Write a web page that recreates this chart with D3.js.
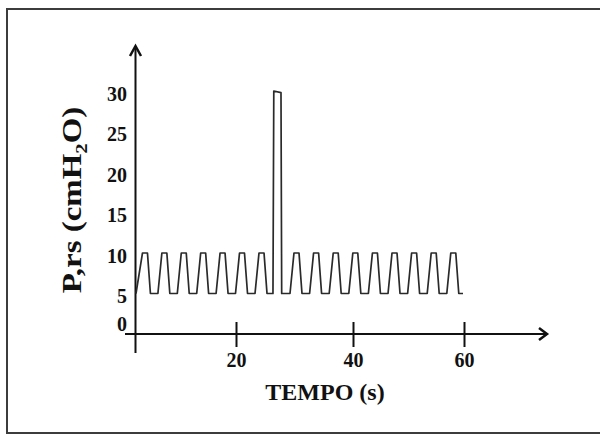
<!DOCTYPE html>
<html>
<head>
<meta charset="utf-8">
<script src="https://cdn.jsdelivr.net/npm/d3@7"></script>
<style>
  html, body { margin: 0; padding: 0; background: #fff; }
  svg { display: block; }
  text { font-family: "Liberation Serif", "Times New Roman", serif; font-weight: bold; fill: #111; }
</style>
</head>
<body>
<svg id="chart" width="600" height="435"></svg>
<script>
// ---- data ----
const timeS = [
  0.1, 1.39, 2.38, 2.97, 4.46,
  5.25, 6.24, 6.83, 8.32,
  9.11, 10.10, 10.69, 12.18,
  12.97, 13.96, 14.55, 16.04,
  16.83, 17.82, 18.42, 19.90,
  20.60, 21.45, 21.97, 23.25,
  23.93, 24.79, 25.30, 26.32,
  26.46, 27.69, 27.81, 29.23,
  29.91, 30.77, 31.28, 32.58,
  33.26, 34.12, 34.63, 35.93,
  36.62, 37.47, 37.98, 39.28,
  39.97, 40.86, 41.41, 42.77,
  43.50, 44.40, 44.94, 46.31,
  47.03, 47.93, 48.47, 49.84,
  50.56, 51.46, 52.00, 53.37,
  54.09, 54.99, 55.53, 56.90,
  57.62, 58.52, 59.06, 59.82
];
const pressure = [
  5, 10, 10, 5, 5,
  10, 10, 5, 5,
  10, 10, 5, 5,
  10, 10, 5, 5,
  10, 10, 5, 5,
  10, 10, 5, 5,
  10, 10, 5, 5,
  30, 29.8, 5, 5,
  10, 10, 5, 5,
  10, 10, 5, 5,
  10, 10, 5, 5,
  10, 10, 5, 5,
  10, 10, 5, 5,
  10, 10, 5, 5,
  10, 10, 5, 5,
  10, 10, 5, 5,
  10, 10, 5, 5
];
const xTicks = [20, 40, 60];
const yTicks = [0, 5, 10, 15, 20, 25, 30];
const xLabel = "TEMPO (s)";
const yLabelMain = "P,rs (cmH";
const yLabelSub = "2";
const yLabelEnd = "O)";

// ---- drawing ----
const svg = d3.select("#chart");

// outer frame
svg.append("rect")
  .attr("x", 7).attr("y", 9)
  .attr("width", 600).attr("height", 424)
  .attr("fill", "none").attr("stroke", "#3c3c3c").attr("stroke-width", 2);

// hand-drawn axis has unequal tick spacing -> piecewise linear scale
const x = d3.scaleLinear().domain([0, 20, 40, 60]).range([135.5, 236, 353, 464]);
const y = d3.scaleLinear().domain([0, 30]).range([334, 91]);

const axisColor = "#111";

// x axis line with arrow
svg.append("line")
  .attr("x1", 125).attr("x2", 546)
  .attr("y1", y(0)).attr("y2", y(0))
  .attr("stroke", axisColor).attr("stroke-width", 2);
svg.append("path")
  .attr("d", `M${539},${y(0) - 6}L${547},${y(0)}L${539},${y(0) + 6}`)
  .attr("fill", "none").attr("stroke", axisColor).attr("stroke-width", 2.5)
  .attr("stroke-linejoin", "miter");

// y axis line with arrow
svg.append("line")
  .attr("x1", x(0)).attr("x2", x(0))
  .attr("y1", 353).attr("y2", 47)
  .attr("stroke", axisColor).attr("stroke-width", 2);
svg.append("path")
  .attr("d", `M${x(0) - 5.5},${56}L${x(0)},${46}L${x(0) + 5.5},${56}`)
  .attr("fill", "none").attr("stroke", axisColor).attr("stroke-width", 2.5)
  .attr("stroke-linejoin", "miter");

// x ticks (cross the axis) + labels
const xAxis = d3.axisBottom(x).tickValues(xTicks).tickSize(0).tickPadding(0);
const gx = svg.append("g").attr("transform", `translate(0,${y(0)})`).call(xAxis);
gx.select(".domain").remove();
gx.selectAll(".tick").append("line")
  .attr("y1", -12).attr("y2", 13)
  .attr("stroke", axisColor).attr("stroke-width", 2);
gx.selectAll(".tick text")
  .attr("y", 33).attr("dy", null)
  .style("font-family", "'Liberation Serif', serif")
  .style("font-weight", "bold")
  .style("font-size", "20px")
  .attr("fill", "#111");

// y tick labels (no tick marks)
const yAxis = d3.axisLeft(y).tickValues(yTicks).tickSize(0).tickPadding(0);
const gy = svg.append("g").attr("transform", `translate(127,0)`).call(yAxis);
gy.select(".domain").remove();
gy.selectAll(".tick text")
  .attr("x", 0)
  .attr("dy", d => d === 0 ? "-0.2em" : "0.45em")
  .style("font-family", "'Liberation Serif', serif")
  .style("font-weight", "bold")
  .style("font-size", "20px")
  .attr("fill", "#111");

// pressure trace
const pts = timeS.map((t, i) => [t, pressure[i]]);
const line = d3.line().x(d => x(d[0])).y(d => y(d[1]));
svg.append("path")
  .datum(pts)
  .attr("d", line)
  .attr("fill", "none")
  .attr("stroke", "#2a2a2a")
  .attr("stroke-width", 1.7)
  .attr("stroke-linejoin", "round");

// axis titles
svg.append("text")
  .attr("x", 325).attr("y", 400)
  .attr("text-anchor", "middle")
  .style("font-size", "24px")
  .text(xLabel);

const yl = svg.append("text")
  .attr("transform", "translate(81,200) rotate(-90) scale(1.22,1)")
  .attr("text-anchor", "middle")
  .style("font-size", "27px");
yl.append("tspan").text(yLabelMain);
yl.append("tspan").attr("dy", 6).style("font-size", "17px").text(yLabelSub);
yl.append("tspan").attr("dy", -6).text(yLabelEnd);
</script>
</body>
</html>
